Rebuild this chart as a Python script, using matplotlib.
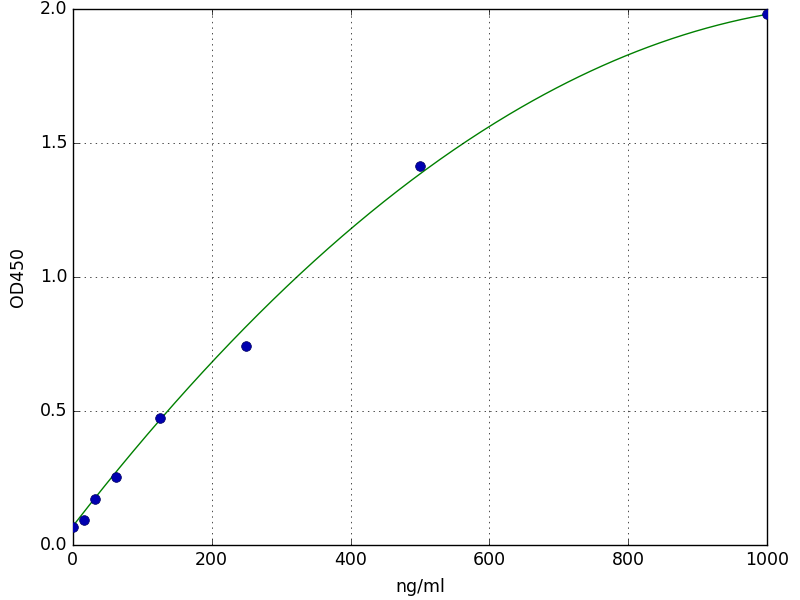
import numpy as np
import matplotlib
matplotlib.use('Agg')
import matplotlib.pyplot as plt

plt.style.use('classic')

# standard points (concentration vs OD)
conc = [0, 15.6, 31.25, 62.5, 125, 250, 500, 1000]
od450 = [0.068, 0.095, 0.172, 0.255, 0.472, 0.742, 1.415, 1.98]

# fitted curve
curveX = [0, 192.6, 322, 400, 600, 800, 1000]
curveY = [0.07, 0.66, 1.0, 1.178, 1.561, 1.83, 1.98]

fig = plt.figure(figsize=(8, 6), dpi=100, facecolor='white')
ax = fig.add_axes([0.091, 0.0917, 0.868, 0.8933])

# smooth the curve readings with a low order polynomial
coef = np.polyfit(curveX, curveY, 3)
xs = np.linspace(0, 1000, 300)
ax.plot(xs, np.polyval(coef, xs), 'g-')
ax.plot(conc, od450, 'o', color='#0000b0', markeredgecolor='#000060',
        markersize=7, zorder=3)

ax.set_xlim(0, 1000)
ax.set_ylim(0, 2.0)
ax.set_xticks([0, 200, 400, 600, 800, 1000])
ax.set_yticks([0.0, 0.5, 1.0, 1.5, 2.0])
ax.tick_params(labelsize=12.5)
ax.grid(True)
ax.set_xlabel('ng/ml', fontsize=12.5, labelpad=7)
ax.set_ylabel('OD450', fontsize=12.5, labelpad=9)

fig.savefig('out.png', dpi=100, facecolor='white')
